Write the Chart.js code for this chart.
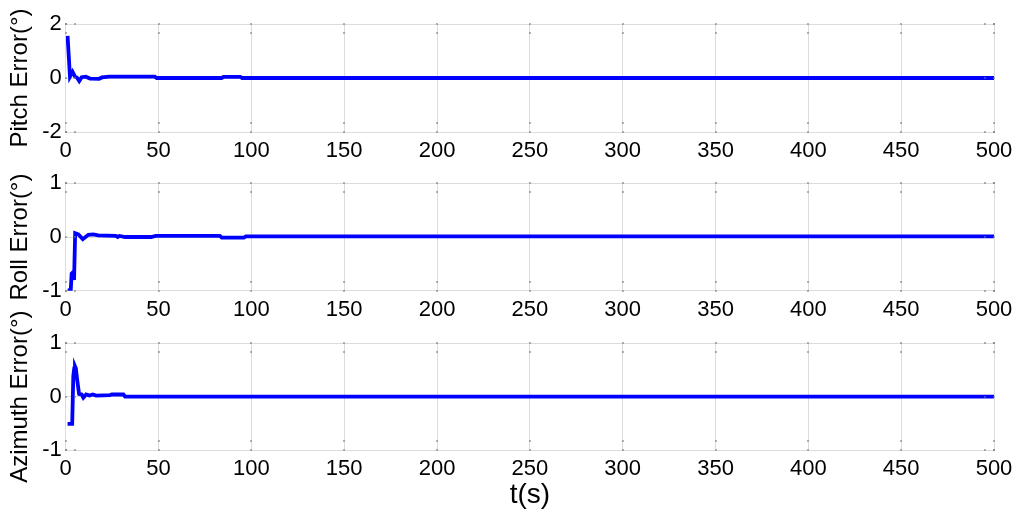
<!DOCTYPE html>
<html><head><meta charset="utf-8">
<script src="https://cdn.jsdelivr.net/npm/chart.js@4.4.0/dist/chart.umd.min.js"></script>
<style>
html,body{margin:0;padding:0;background:#fff;width:1024px;height:521px;overflow:hidden;}
.box{position:absolute;left:0;width:1024px;}
</style></head><body>
<div class="box" style="top:0;height:165px"><canvas id="c1"></canvas></div>
<div class="box" style="top:160px;height:165px"><canvas id="c2"></canvas></div>
<div class="box" style="top:300px;height:221px"><canvas id="c3"></canvas></div>
<script>
// ---- data ----
const xTicks = [0, 50, 100, 150, 200, 250, 300, 350, 400, 450, 500];
const pitchTicks = [-2, 0, 2];
const rollTicks = [-1, 0, 1];
const azTicks = [-1, 0, 1];

const pitchT = [1, 2.3, 3.7, 5, 6, 7.3, 8.6, 10.8, 13.1, 18, 19.5, 23.5, 48, 49, 84, 85, 94, 95, 500];
const pitchV = [1.56, 0.05, 0.23, 0.05, 0.02, -0.11, 0.03, 0.05, -0.02, -0.03, 0.02, 0.05, 0.05, 0.0, 0.0, 0.04, 0.04, 0.0, 0.0];

const rollT = [1, 2.7, 3.2, 4.1, 4.5, 5.1, 6.8, 9.2, 12.2, 14.9, 17.5, 27, 28, 29, 32, 46, 48.5, 58, 59, 83, 84, 96, 97, 500];
const rollV = [-0.99, -1.0, -0.68, -0.65, -0.8, 0.07, 0.05, -0.04, 0.04, 0.05, 0.03, 0.02, 0.0, 0.02, 0.0, 0.0, 0.02, 0.02, 0.02, 0.02, -0.01, -0.01, 0.01, 0.01];

const azT = [1, 3.5, 4.1, 4.6, 5, 5.5, 5.9, 7.2, 8.6, 9.5, 11, 12.8, 14.6, 16.4, 23.9, 24.8, 31.1, 32, 500];
const azV = [-0.51, -0.51, 0.39, 0.53, 0.57, 0.53, 0.39, 0.05, 0.04, -0.02, 0.04, 0.02, 0.04, 0.02, 0.03, 0.04, 0.04, 0.0, 0.0];

const labels = ['Pitch Error(°)', 'Roll Error(°)', 'Azimuth Error(°)'];
const xLabel = 't(s)';

// ---- styling ----
const FONT = "'Liberation Sans', Arial, Helvetica, sans-serif";
Chart.defaults.color = '#000';
Chart.defaults.font.family = FONT;
const GRID = '#dcdcdc';

const tickDots = {
  id: 'tickDots',
  afterDraw(chart) {
    const {ctx, chartArea: a, scales: {x, y}} = chart;
    ctx.save();
    ctx.fillStyle = '#777';
    const L = 9;
    x.ticks.forEach(t => {
      const px = Math.round(x.getPixelForValue(t.value));
      [a.top, a.top + L, a.bottom - L, a.bottom].forEach(py => ctx.fillRect(px - 0.75, Math.round(py) - 0.75, 1.5, 1.5));
    });
    y.ticks.forEach(t => {
      const py = Math.round(y.getPixelForValue(t.value));
      [a.left, a.left + L, a.right - L, a.right].forEach(px => ctx.fillRect(Math.round(px) - 0.75, py - 0.75, 1.5, 1.5));
    });
    ctx.restore();
  }
};

function makeChart(id, t, v, yMin, yMax, yTicks, yTitle, padTop, xAxisH, showX) {
  const pts = t.map((tt, i) => ({x: tt, y: v[i]}));
  return new Chart(document.getElementById(id), {
    type: 'line',
    data: {datasets: [{data: pts, borderColor: '#0000ff', borderWidth: 3.8, pointRadius: 0, tension: 0, fill: false}]},
    options: {
      responsive: true, maintainAspectRatio: false, animation: false,
      layout: {padding: {left: 0, right: 30, top: padTop, bottom: 0}},
      plugins: {legend: {display: false}, tooltip: {enabled: false}},
      scales: {
        x: {
          type: 'linear', min: 0, max: 500,
          afterBuildTicks: s => { s.ticks = xTicks.map(vv => ({value: vv})); },
          afterFit: s => { s.height = xAxisH; },
          grid: {color: GRID, drawTicks: false},
          border: {display: true, color: GRID},
          ticks: {font: {size: 22, family: FONT}, padding: 6, maxRotation: 0, autoSkip: false, color: '#000'},
          title: {display: showX, text: xLabel, font: {size: 28, family: FONT}, padding: {top: 0, bottom: 9}, color: '#000'}
        },
        y: {
          min: yMin, max: yMax,
          afterBuildTicks: s => { s.ticks = yTicks.map(vv => ({value: vv})); },
          afterFit: s => { s.width = 65.7; },
          grid: {color: GRID, drawTicks: false},
          border: {display: true, color: GRID},
          ticks: {font: {size: 22, family: FONT}, padding: 4, color: '#000'},
          title: {display: true, text: yTitle, font: {size: 24, family: FONT}, padding: {top: 6, bottom: 0}, color: '#000'}
        }
      }
    },
    plugins: [tickDots]
  });
}

makeChart('c1', pitchT, pitchV, -2, 2, pitchTicks, labels[0], 24, 33, false);
makeChart('c2', rollT, rollV, -1, 1, rollTicks, labels[1], 23.3, 34.3, false);
makeChart('c3', azT, azV, -1, 1, azTicks, labels[2], 43.3, 71, true);
</script>
</body></html>
